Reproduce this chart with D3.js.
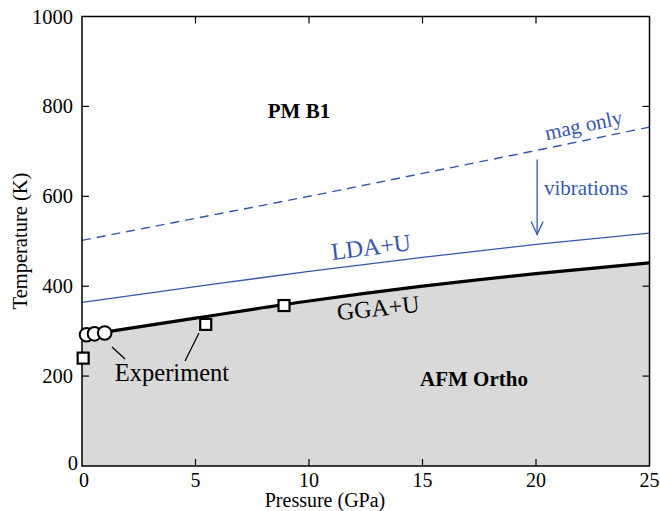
<!DOCTYPE html>
<html>
<head>
<meta charset="utf-8">
<script src="https://cdn.jsdelivr.net/npm/d3@7"></script>
<style>
  html, body { margin: 0; padding: 0; background: #fff; }
  svg { display: block; }
</style>
</head>
<body>
<svg id="chart" width="660" height="511" font-family="'Liberation Serif', 'Times New Roman', Times, 'DejaVu Serif', serif"></svg>
<script>
// ---- data ----
const xTicks = [0, 5, 10, 15, 20, 25];
const yTicks = [0, 200, 400, 600, 800, 1000];

const ggaP = [0, 1, 5, 10, 15, 20, 25];
const ggaT = [296, 298, 329, 367, 400, 428, 452];

const ldaP = [0, 5, 10, 15, 20, 25];
const ldaT = [364, 399, 433, 464, 493, 518];

const magP = [0, 5, 10, 15, 20, 25];
const magT = [502, 551, 600, 651, 702, 754];

const expCircleP = [0.2, 0.55, 1.0];
const expCircleT = [292, 294, 296];

const expSquareP = [0.05, 5.45, 8.9];
const expSquareT = [240, 315, 357];

const arrowP = [20.05, 20.05];
const arrowT = [682, 515];

// ---- layout ----
const FONT = "'Liberation Serif', 'Times New Roman', Times, 'DejaVu Serif', serif";
const svg = d3.select("#chart");
const x = d3.scaleLinear().domain([0, 25]).range([82, 649.5]);
const y = d3.scaleLinear().domain([0, 1000]).range([466, 16.5]);
const blue = "#3457ad";

function label(sel) { return sel.attr("font-family", FONT); }

// gray fill below GGA+U (phase region)
const gga = ggaP.map((p, i) => [p, ggaT[i]]);
const area = d3.area().x(d => x(d[0])).y0(y(0)).y1(d => y(d[1])).curve(d3.curveMonotoneX);
svg.append("path").datum(gga).attr("d", area).attr("fill", "#d9d9d9");

// lines
const line = d3.line().x(d => x(d[0])).y(d => y(d[1])).curve(d3.curveMonotoneX);
svg.append("path").datum(magP.map((p, i) => [p, magT[i]])).attr("d", line)
  .attr("fill", "none").attr("stroke", blue).attr("stroke-width", 1.4).attr("stroke-dasharray", "9,6");
svg.append("path").datum(ldaP.map((p, i) => [p, ldaT[i]])).attr("d", line)
  .attr("fill", "none").attr("stroke", blue).attr("stroke-width", 1.3);
svg.append("path").datum(gga.filter(d => d[0] >= 1)).attr("d", line)
  .attr("fill", "none").attr("stroke", "#000").attr("stroke-width", 3.2);

// arrow "vibrations"
const ax = x(arrowP[0]), ay0 = y(arrowT[0]), ay1 = y(arrowT[1]);
svg.append("line").attr("x1", ax).attr("x2", ax).attr("y1", ay0).attr("y2", ay1)
  .attr("stroke", blue).attr("stroke-width", 1.3);
svg.append("path").attr("d", `M${ax-6},${ay1-13} L${ax},${ay1} L${ax+6},${ay1-13}`)
  .attr("fill", "none").attr("stroke", blue).attr("stroke-width", 1.3);

// frame and axes
const axes = svg.append("g").attr("stroke", "#000").attr("fill", "none");
axes.append("rect").attr("x", x(0)).attr("y", y(1000)).attr("width", x(25) - x(0)).attr("height", y(0) - y(1000))
  .attr("stroke-width", 1.5);
const tl = 7;
xTicks.slice(1, -1).forEach(t => {
  axes.append("line").attr("x1", x(t)).attr("x2", x(t)).attr("y1", y(0)).attr("y2", y(0) - tl).attr("stroke-width", 1.2);
  axes.append("line").attr("x1", x(t)).attr("x2", x(t)).attr("y1", y(1000)).attr("y2", y(1000) + tl).attr("stroke-width", 1.2);
});
yTicks.slice(1, -1).forEach(t => {
  axes.append("line").attr("x1", x(0)).attr("x2", x(0) + tl).attr("y1", y(t)).attr("y2", y(t)).attr("stroke-width", 1.2);
  axes.append("line").attr("x1", x(25)).attr("x2", x(25) - tl).attr("y1", y(t)).attr("y2", y(t)).attr("stroke-width", 1.2);
});

// tick labels
xTicks.forEach(t => {
  label(svg.append("text")).attr("x", x(t) + (t === 0 ? 2 : 0)).attr("y", y(0) + 21).attr("text-anchor", "middle")
    .attr("font-size", 20).text(t);
});
yTicks.forEach(t => {
  label(svg.append("text")).attr("x", x(0) - (t === 0 ? 4 : 9)).attr("y", y(t) + (t === 0 ? 4 : 7)).attr("text-anchor", "end")
    .attr("font-size", 20.5).text(t);
});

// axis titles
label(svg.append("text")).attr("x", 325).attr("y", 507).attr("text-anchor", "middle").attr("font-size", 20).text("Pressure (GPa)");
label(svg.append("text")).attr("transform", "translate(27,241) rotate(-90)").attr("text-anchor", "middle")
  .attr("font-size", 20.5).text("Temperature (K)");

// experimental markers
svg.append("g").selectAll("circle").data(expCircleP.map((p, i) => [p, expCircleT[i]])).join("circle")
  .attr("cx", d => x(d[0])).attr("cy", d => y(d[1])).attr("r", 6.8)
  .attr("fill", "#fff").attr("stroke", "#000").attr("stroke-width", 2);
svg.append("g").selectAll("rect").data(expSquareP.map((p, i) => [p, expSquareT[i]])).join("rect")
  .attr("x", d => x(d[0]) - 5.5).attr("y", d => y(d[1]) - 5.5).attr("width", 11).attr("height", 11)
  .attr("fill", "#fff").attr("stroke", "#000").attr("stroke-width", 2.2);

// Experiment label with leaders
label(svg.append("text")).attr("x", 172).attr("y", 381).attr("text-anchor", "middle").attr("font-size", 24.5).text("Experiment");
svg.append("line").attr("x1", 112).attr("y1", 347).attr("x2", 125).attr("y2", 359).attr("stroke", "#000").attr("stroke-width", 1.3);
svg.append("line").attr("x1", 199).attr("y1", 333).attr("x2", 185).attr("y2", 361).attr("stroke", "#000").attr("stroke-width", 1.3);

// region labels
label(svg.append("text")).attr("x", 299).attr("y", 118).attr("text-anchor", "middle").attr("font-size", 21)
  .attr("font-weight", "bold").text("PM B1");
label(svg.append("text")).attr("x", 474).attr("y", 386).attr("text-anchor", "middle").attr("font-size", 21)
  .attr("font-weight", "bold").text("AFM Ortho");

// curve labels
label(svg.append("text")).attr("transform", "translate(585,132) rotate(-12)").attr("text-anchor", "middle")
  .attr("font-size", 21).attr("fill", blue).text("mag only");
label(svg.append("text")).attr("x", 586).attr("y", 195).attr("text-anchor", "middle")
  .attr("font-size", 21).attr("fill", blue).text("vibrations");
label(svg.append("text")).attr("transform", "translate(372,255) rotate(-7)").attr("text-anchor", "middle")
  .attr("font-size", 24).attr("fill", blue).text("LDA+U");
label(svg.append("text")).attr("transform", "translate(379,316) rotate(-6)").attr("text-anchor", "middle")
  .attr("font-size", 24).attr("fill", "#000").text("GGA+U");
</script>
</body>
</html>
